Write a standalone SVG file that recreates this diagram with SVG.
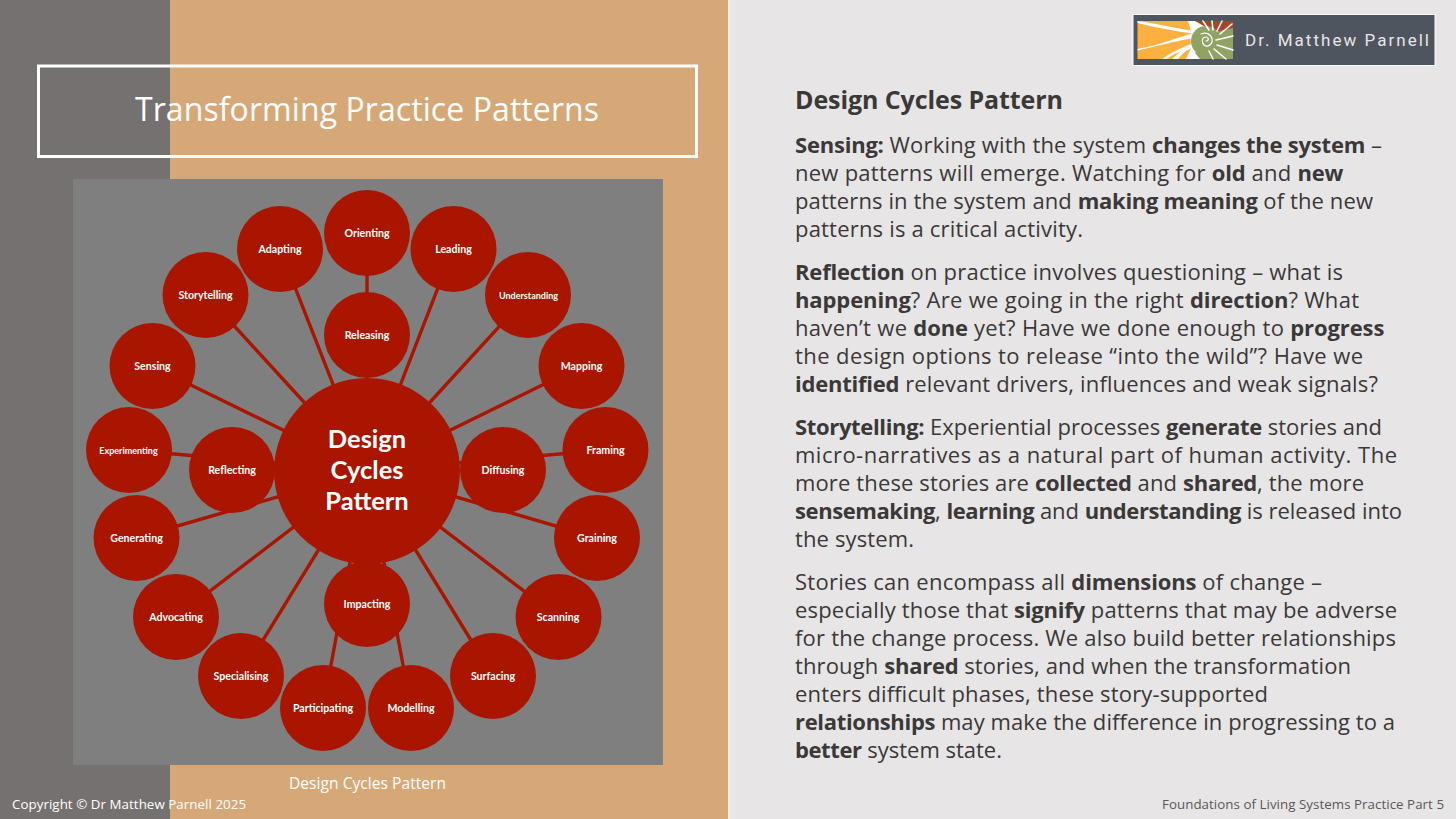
<svg xmlns="http://www.w3.org/2000/svg" width="1456" height="819" viewBox="0 0 1456 819">
<style>
.n{fill:#aa1500}
.l{font-family:"Lato","Open Sans","Liberation Sans",sans-serif;font-weight:700;font-size:10.6px;fill:#fff;text-anchor:middle}
.m{font-size:9px}
.k{font-size:25.500px}
.c line{stroke:#aa1500;stroke-width:3.400}
.f{font-family:"Open Sans","Noto Sans","Liberation Sans",sans-serif}
.b{font-family:"Open Sans","Noto Sans","Liberation Sans",sans-serif;font-size:22px;fill:#3b3838}
.b tspan.s{font-weight:700;letter-spacing:-0.4px}
.r{stroke:#fff;stroke-linecap:round;fill:none}
</style>
<rect width="1456" height="819" fill="#e7e5e6"/>
<rect x="0" y="0" width="170" height="819" fill="#767171"/>
<rect x="170" y="0" width="558" height="819" fill="#d6a877"/>
<rect x="728" y="0" width="2" height="819" fill="#f2f0f0"/>
<rect x="38.500" y="66" width="658" height="90.500" fill="none" stroke="#fff" stroke-width="3"/>
<text class="f" x="135" y="121" textLength="464" font-size="32px" fill="#fff">Transforming Practice Patterns</text>
<rect x="73" y="179" width="590" height="586" fill="#7f7f7f"/>
<g class="c" id="connectors">
<line x1="367" y1="471" x2="367" y2="233"/><line x1="367" y1="471" x2="453" y2="249"/><line x1="367" y1="471" x2="528" y2="295"/><line x1="367" y1="471" x2="581" y2="366"/><line x1="367" y1="471" x2="605" y2="450"/><line x1="367" y1="471" x2="597" y2="538"/><line x1="367" y1="471" x2="558" y2="617"/><line x1="367" y1="471" x2="493" y2="676"/><line x1="367" y1="471" x2="411" y2="708"/><line x1="367" y1="471" x2="323" y2="708"/><line x1="367" y1="471" x2="241" y2="676"/><line x1="367" y1="471" x2="176" y2="617"/><line x1="367" y1="471" x2="136" y2="538"/><line x1="367" y1="471" x2="129" y2="450"/><line x1="367" y1="471" x2="152" y2="366"/><line x1="367" y1="471" x2="206" y2="295"/><line x1="367" y1="471" x2="280" y2="249"/>
</g>
<g id="n-orienting"><circle class="n" cx="367" cy="233" r="43"/><text class="l" x="367" y="236.500">Orienting</text></g>
<g id="n-leading"><circle class="n" cx="453.500" cy="249" r="43"/><text class="l" x="453.500" y="252.500">Leading</text></g>
<g id="n-understanding"><circle class="n" cx="528" cy="295" r="43"/><text class="l m" x="528.500" y="298.500">Understanding</text></g>
<g id="n-mapping"><circle class="n" cx="581.500" cy="366" r="43"/><text class="l" x="581.500" y="369.500">Mapping</text></g>
<g id="n-framing"><circle class="n" cx="605.500" cy="450" r="43"/><text class="l" x="605.500" y="453.500">Framing</text></g>
<g id="n-graining"><circle class="n" cx="597" cy="538" r="43"/><text class="l" x="597" y="541.500">Graining</text></g>
<g id="n-scanning"><circle class="n" cx="558.500" cy="617" r="43"/><text class="l" x="558" y="620.500">Scanning</text></g>
<g id="n-surfacing"><circle class="n" cx="493" cy="676" r="43"/><text class="l" x="493" y="679.500">Surfacing</text></g>
<g id="n-modelling"><circle class="n" cx="411" cy="708" r="43"/><text class="l" x="411" y="711.500">Modelling</text></g>
<g id="n-participating"><circle class="n" cx="323" cy="708" r="43"/><text class="l" x="323" y="711.500">Participating</text></g>
<g id="n-specialising"><circle class="n" cx="241" cy="676" r="43"/><text class="l" x="241" y="679.500">Specialising</text></g>
<g id="n-advocating"><circle class="n" cx="176" cy="617" r="43"/><text class="l" x="176" y="620.500">Advocating</text></g>
<g id="n-generating"><circle class="n" cx="136.500" cy="538" r="43"/><text class="l" x="136.500" y="541.500">Generating</text></g>
<g id="n-experimenting"><circle class="n" cx="129" cy="450" r="43"/><text class="l m" x="128.500" y="453.500">Experimenting</text></g>
<g id="n-sensing"><circle class="n" cx="152.500" cy="366" r="43"/><text class="l" x="152.500" y="369.500">Sensing</text></g>
<g id="n-storytelling"><circle class="n" cx="205.500" cy="295" r="43"/><text class="l" x="205.500" y="298.500">Storytelling</text></g>
<g id="n-adapting"><circle class="n" cx="280" cy="249" r="43"/><text class="l" x="280" y="252.500">Adapting</text></g>
<g id="n-releasing"><circle class="n" cx="367" cy="335" r="43"/><text class="l" x="367" y="338.500">Releasing</text></g>
<g id="n-reflecting"><circle class="n" cx="232" cy="470" r="43"/><text class="l" x="232" y="473.500">Reflecting</text></g>
<g id="n-diffusing"><circle class="n" cx="503" cy="470" r="43"/><text class="l" x="503" y="473.500">Diffusing</text></g>
<g id="n-impacting"><circle class="n" cx="367" cy="604" r="43"/><text class="l" x="367" y="607.500">Impacting</text></g>
<g id="n-center"><circle class="n" cx="367" cy="471" r="93"/>
<text class="l k" x="367" y="447.500">Design</text><text class="l k" x="367" y="478.500">Cycles</text><text class="l k" x="367" y="509.500">Pattern</text></g>
<text class="f" x="289" y="789" textLength="157" font-size="15.500px" fill="#fff">Design Cycles Pattern</text>
<text class="f" x="12" y="809" textLength="234" font-size="13.300px" fill="#fff">Copyright © Dr Matthew Parnell 2025</text>
<text class="f" x="1162" y="809" textLength="282" font-size="13.300px" fill="#595959">Foundations of Living Systems Practice Part 5</text>
<g id="logo">
<rect x="1133" y="14.500" width="302" height="51" fill="#4f555e" stroke="#fff" stroke-width="1"/>
<rect x="1137.500" y="21" width="95.500" height="38" fill="#fbb040"/>
<path d="M1188 21H1233V59H1186L1192 46C1190 42 1190 38 1192 34Z" fill="#fff"/>
<path d="M1137.500 21C1160 24 1178 29 1194 31V34C1176 31 1158 28 1137.500 23Z" fill="#fff"/>
<path d="M1137.500 49C1160 45 1178 37 1194 33V38C1176 41 1158 46 1137.500 50.500Z" fill="#fff"/>
<path d="M1162 59C1172 52 1182 47 1194 43V47C1186 50 1182 54 1178 59H1172L1180 52C1174 54 1170 56 1167 59Z" fill="#fff"/>
<path d="M1195 21H1233V29L1216 36L1211 30Z" fill="#ab432b"/>
<path d="M1195 53L1210 33L1233 28V59H1200Z" fill="#8fa362"/>
<circle cx="1206" cy="41" r="15" fill="#8fa362"/>
<path class="r" stroke-width="1.600" d="M1203 21L1209 30M1212 21L1213 30M1222 21L1217 31M1232 24L1220 34"/>
<path class="r" stroke-width="1.500" d="M1217 45L1233 50M1214 49L1226 59M1209 51L1213 59M1216 40L1233 36"/>
<path class="r" stroke-width="1.200" d="M1206 41C1209 41 1209 37 1206 37C1202 37 1201 42 1204 45C1208 48 1213 44 1212 39C1211 34 1206 32 1201 34"/>
<text x="1245" y="46" font-family="Roboto,sans-serif" font-size="17px" textLength="184" fill="#e7e6e6">Dr. Matthew Parnell</text>
</g>
<g class="b">
<text x="795" y="109" textLength="268" style="font-size:25px;font-weight:700">Design Cycles Pattern</text>
<text x="795" y="153" textLength="587"><tspan class="s">Sensing:</tspan> Working with the system <tspan class="s">changes the system</tspan> –</text>
<text x="795" y="181" textLength="548">new patterns will emerge. Watching for <tspan class="s">old</tspan> and <tspan class="s">new</tspan></text>
<text x="795" y="209" textLength="578">patterns in the system and <tspan class="s">making meaning</tspan> of the new</text>
<text x="795" y="237" textLength="288">patterns is a critical activity.</text>
<text x="795" y="280" textLength="548"><tspan class="s">Reflection</tspan> on practice involves questioning – what is</text>
<text x="795" y="308" textLength="564"><tspan class="s">happening</tspan>? Are we going in the right <tspan class="s">direction</tspan>? What</text>
<text x="795" y="336" textLength="589">haven’t we <tspan class="s">done</tspan> yet? Have we done enough to <tspan class="s">progress</tspan></text>
<text x="795" y="364" textLength="568">the design options to release “into the wild”? Have we</text>
<text x="795" y="392" textLength="583"><tspan class="s">identified</tspan> relevant drivers, influences and weak signals?</text>
<text x="795" y="435" textLength="587"><tspan class="s">Storytelling:</tspan> Experiential processes <tspan class="s">generate</tspan> stories and</text>
<text x="795" y="463" textLength="602">micro-narratives as a natural part of human activity. The</text>
<text x="795" y="491" textLength="569">more these stories are <tspan class="s">collected</tspan> and <tspan class="s">shared</tspan>, the more</text>
<text x="795" y="519" textLength="607"><tspan class="s">sensemaking</tspan>, <tspan class="s">learning</tspan> and <tspan class="s">understanding</tspan> is released into</text>
<text x="795" y="547" textLength="119">the system.</text>
<text x="795" y="590" textLength="527">Stories can encompass all <tspan class="s">dimensions</tspan> of change –</text>
<text x="795" y="618" textLength="602">especially those that <tspan class="s">signify</tspan> patterns that may be adverse</text>
<text x="795" y="646" textLength="601">for the change process. We also build better relationships</text>
<text x="795" y="674" textLength="556">through <tspan class="s">shared</tspan> stories, and when the transformation</text>
<text x="795" y="702" textLength="473">enters difficult phases, these story-supported</text>
<text x="795" y="730" textLength="600"><tspan class="s">relationships</tspan> may make the difference in progressing to a</text>
<text x="795" y="758" textLength="207"><tspan class="s">better</tspan> system state.</text>
</g>
</svg>
